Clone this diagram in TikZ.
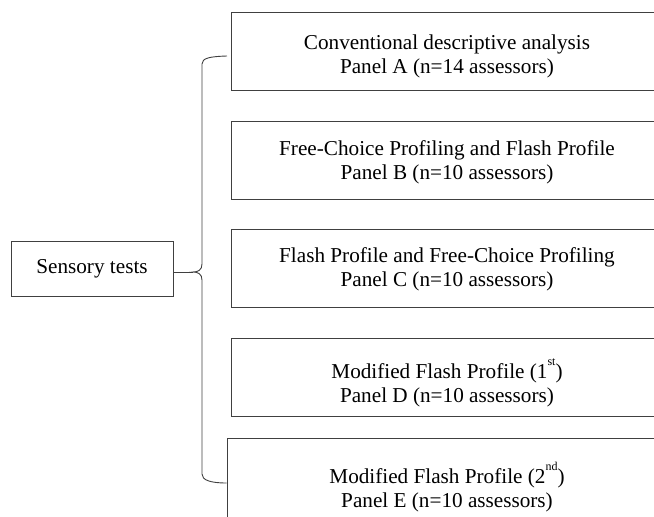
\documentclass[tikz,border=0pt]{standalone}
\usepackage{fontspec}
\setmainfont{Liberation Serif}
\newcommand{\supr}[1]{\raisebox{0.6em}[0pt][0pt]{\fontsize{12}{12}\selectfont #1}}
\begin{document}
\begin{tikzpicture}[x=1pt,y=-1pt,
  line/.style={draw=black!75, line width=0.9pt},
  panel/.style={line, rectangle, inner sep=0pt, minimum width=432pt, minimum height=78pt},
  ptext/.style={align=center, inner sep=0pt, font=\fontsize{21.2}{24}\selectfont},
  root/.style={line, rectangle, align=center, inner sep=0pt,
    font=\fontsize{21.2}{24}\selectfont, minimum width=162pt, minimum height=55pt}]
\useasboundingbox (0,0) rectangle (654,517);
\clip (0,0) rectangle (654,517);
\node[root] (sens) at (92,268.5) {Sensory tests};
\node[panel] (a) at (447,51) {};
\node[panel] (b) at (447,160) {};
\node[panel] (c) at (447,268) {};
\node[panel] (d) at (447,377) {};
\node[panel, minimum width=440pt, minimum height=84pt] (e) at (447,480) {};
\node[ptext] (ta) at ([yshift=-5.5]a.center) {Conventional descriptive analysis\\Panel A (n=14 assessors)};
\node[ptext] (tb) at ([yshift=-2]b.center) {Free-Choice Profiling and Flash Profile\\Panel B (n=10 assessors)};
\node[ptext] (tc) at ([yshift=-1.5]c.center) {Flash Profile and Free-Choice Profiling\\Panel C (n=10 assessors)};
\node[ptext] (td) at ([yshift=-8]d.center) {Modified Flash Profile (1\supr{st})\\Panel D (n=10 assessors)};
\node[ptext] (te) at ([yshift=-10]e.center) {Modified Flash Profile (2\supr{nd})\\Panel E (n=10 assessors)};
\coordinate (cusp) at (193,272);
\coordinate (tA) at (227,56);
\coordinate (tE) at (e.west |- 0,483);
\draw[line] (sens.east |- cusp) -- (cusp);
\draw[line] (tA) .. controls (210,56.5) and (202,58) .. (202,64) -- (202,264)
  .. controls (202,270) and (198,272) .. (cusp)
  .. controls (198,272) and (202,274) .. (202,280) -- (202,474)
  .. controls (202,480) and (210,483) .. (tE);
\end{tikzpicture}
\end{document}
